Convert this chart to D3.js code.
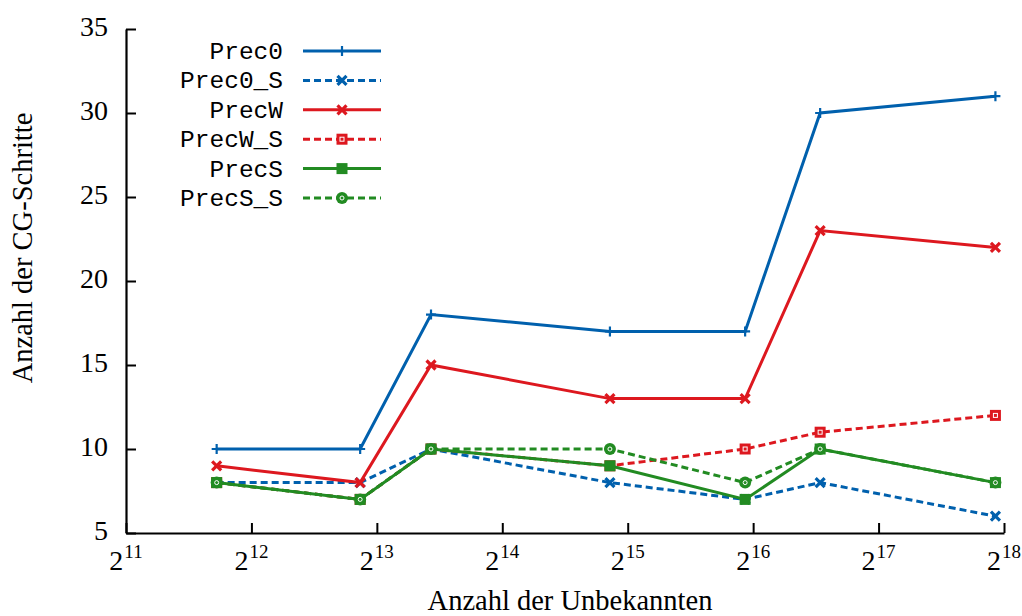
<!DOCTYPE html>
<html>
<head>
<meta charset="utf-8">
<script src="https://cdn.jsdelivr.net/npm/d3@7"></script>
<style>
  html, body { margin: 0; padding: 0; background: #fff; }
  svg { display: block; }
</style>
</head>
<body>
<svg id="chart" width="1022" height="616"></svg>
<script>
// Number of unknowns per mesh level
const unknowns = [3380, 7470, 11050, 29700, 62700, 94900, 250000];

// CG iteration counts per preconditioner
const prec0   = [10, 10, 18, 17, 17, 30, 31];
const prec0S  = [8, 8, 10, 8, 7, 8, 6];
const precW   = [9, 8, 15, 13, 13, 23, 22];
const precWS  = [8, 7, 10, 9, 10, 11, 12];
const precS   = [8, 7, 10, 9, 7, 10, 8];
const precSS  = [8, 7, 10, 10, 8, 10, 8];

const seriesNames = ["Prec0", "Prec0_S", "PrecW", "PrecW_S", "PrecS", "PrecS_S"];

// Axis ticks
const xTickExponents = [11, 12, 13, 14, 15, 16, 17, 18];
const yTicks = [5, 10, 15, 20, 25, 30, 35];

const BLUE = "#0060ad", RED = "#dd181f", GREEN = "#228b22";

const series = [
  { name: seriesNames[0], values: prec0,  color: BLUE,  dash: null,  marker: "plus" },
  { name: seriesNames[1], values: prec0S, color: BLUE,  dash: "7,4", marker: "cross" },
  { name: seriesNames[2], values: precW,  color: RED,   dash: null,  marker: "cross" },
  { name: seriesNames[3], values: precWS, color: RED,   dash: "7,4", marker: "boxdot" },
  { name: seriesNames[4], values: precS,  color: GREEN, dash: null,  marker: "box" },
  { name: seriesNames[5], values: precSS, color: GREEN, dash: "7,4", marker: "circdot" }
];

const svg = d3.select("#chart");
const margin = { left: 126, right: 1004, top: 29, bottom: 533 };

const x = d3.scaleLog().base(2)
  .domain([Math.pow(2, 11), Math.pow(2, 18)])
  .range([margin.left, margin.right]);
const y = d3.scaleLinear().domain([5, 35]).range([margin.bottom, margin.top]);

const serif = "'Liberation Serif', 'DejaVu Serif', serif";
const mono = "'Liberation Mono', 'DejaVu Sans Mono', monospace";

// Axes: left and bottom only, ticks pointing inward
const xAxis = d3.axisBottom(x)
  .tickValues(xTickExponents.map(e => Math.pow(2, e)))
  .tickSizeInner(-10).tickSizeOuter(0).tickFormat("");
const gx = svg.append("g").attr("transform", `translate(0,${margin.bottom})`).call(xAxis);
gx.select(".domain").attr("stroke", "#000").attr("stroke-width", 2.2);
gx.selectAll(".tick line").attr("stroke", "#000").attr("stroke-width", 2);

const yAxis = d3.axisLeft(y).tickValues(yTicks)
  .tickSizeInner(-10).tickSizeOuter(0).tickFormat("");
const gy = svg.append("g").attr("transform", `translate(${margin.left},0)`).call(yAxis);
gy.select(".domain").attr("stroke", "#000").attr("stroke-width", 2.2);
gy.selectAll(".tick line").attr("stroke", "#000").attr("stroke-width", 2);

// x tick labels as powers of two
xTickExponents.forEach(e => {
  const t = svg.append("text")
    .attr("x", x(Math.pow(2, e)))
    .attr("y", 570)
    .attr("text-anchor", "middle")
    .attr("font-family", serif)
    .attr("font-size", 28)
    .attr("fill", "#000");
  t.append("tspan").text("2");
  t.append("tspan").attr("dy", -12).attr("dx", 1).attr("font-size", 19).text(e);
});

// y tick labels
yTicks.forEach(v => {
  svg.append("text")
    .attr("x", 108)
    .attr("y", y(v) + 7)
    .attr("text-anchor", "end")
    .attr("font-family", serif)
    .attr("font-size", 28)
    .attr("fill", "#000")
    .text(v);
});

// Axis titles
svg.append("text")
  .attr("x", 570).attr("y", 610)
  .attr("text-anchor", "middle")
  .attr("font-family", serif).attr("font-size", 28.5)
  .text("Anzahl der Unbekannten");
svg.append("text")
  .attr("transform", "translate(32,248) rotate(-90)")
  .attr("text-anchor", "middle")
  .attr("font-family", serif).attr("font-size", 28.5)
  .text("Anzahl der CG-Schritte");

function drawMarker(g, type, color, cx, cy) {
  const m = g.append("g").attr("transform", `translate(${cx},${cy})`);
  if (type === "plus") {
    m.append("path").attr("d", "M-5,0H5M0,-5V5")
      .attr("stroke", color).attr("stroke-width", 2.2).attr("fill", "none");
  } else if (type === "cross") {
    m.append("path").attr("d", "M-4.5,-4.5L4.5,4.5M-4.5,4.5L4.5,-4.5")
      .attr("stroke", color).attr("stroke-width", 3.2).attr("fill", "none");
  } else if (type === "box" || type === "boxdot") {
    m.append("rect").attr("x", -5.5).attr("y", -5.5).attr("width", 11).attr("height", 11)
      .attr("fill", color);
    if (type === "boxdot") {
      m.append("rect").attr("x", -2).attr("y", -2).attr("width", 4).attr("height", 4)
        .attr("fill", "none").attr("stroke", "#fff").attr("stroke-width", 1);
    }
  } else if (type === "circdot") {
    m.append("circle").attr("r", 6).attr("fill", color);
    m.append("circle").attr("r", 2).attr("fill", "none")
      .attr("stroke", "#fff").attr("stroke-width", 1);
  }
}

const line = d3.line().x((d, i) => x(unknowns[i])).y(d => y(d));

series.forEach(s => {
  const g = svg.append("g");
  g.append("path").datum(s.values)
    .attr("d", line)
    .attr("fill", "none")
    .attr("stroke", s.color)
    .attr("stroke-width", 3)
    .attr("stroke-linejoin", "miter")
    .attr("stroke-dasharray", s.dash);
  s.values.forEach((v, i) => drawMarker(g, s.marker, s.color, x(unknowns[i]), y(v)));
});

// Legend
const legendRowY = d3.scaleLinear().domain([0, 5]).range([51, 198]);
series.forEach((s, i) => {
  const ly = legendRowY(i);
  svg.append("text")
    .attr("x", 283).attr("y", ly + 8)
    .attr("text-anchor", "end")
    .attr("font-family", mono).attr("font-size", 24.5)
    .attr("fill", "#000")
    .text(s.name);
  const g = svg.append("g");
  g.append("line")
    .attr("x1", 303).attr("x2", 381).attr("y1", ly).attr("y2", ly)
    .attr("stroke", s.color).attr("stroke-width", 3)
    .attr("stroke-dasharray", s.dash);
  drawMarker(g, s.marker, s.color, 342, ly);
});
</script>
</body>
</html>
